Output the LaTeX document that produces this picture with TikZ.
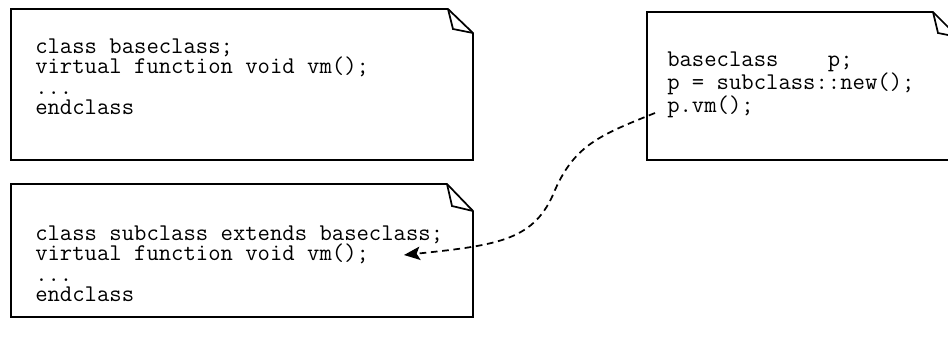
\documentclass[tikz,border=0pt]{standalone}
\usepackage{fontspec}
\usetikzlibrary{arrows.meta}
\begin{document}
\begin{tikzpicture}[x=0.75pt,y=-0.75pt,
  note/.style={line width=1.3pt, line join=miter},
  code/.style={anchor=base west, inner sep=0pt, align=left,
    font=\ttfamily\fontsize{18pt}{15.375pt}\selectfont},
  widecode/.style={code, font=\ttfamily\fontsize{18pt}{17.25pt}\selectfont},
  call/.style={line width=1.3pt, dash pattern=on 5pt off 3.5pt,
    -{Stealth[length=12pt,width=10pt,inset=2.5pt]}}]
\useasboundingbox (0,0) rectangle (948,347);

% note: base class (node base = baseline of its last line)
\draw[note] (11,9) -- (448,9) -- (473,33) -- (473,160) -- (11,160) -- cycle;
\draw[note] (448,9) -- (453,29) -- (473,33);
\node[code] (base) at (35,114.5) {class baseclass;\\virtual function void vm();\\...\\endclass};

% note: subclass
\draw[note] (11,184) -- (447,184) -- (473,211) -- (473,317) -- (11,317) -- cycle;
\draw[note] (447,184) -- (452,206) -- (473,211);
\node[code] (sub) at (35,301.5) {class subclass extends baseclass;\\virtual function void vm();\\...\\endclass};

% note: caller
\draw[note] (647,12) -- (933,12) -- (958,37) -- (958,160) -- (647,160) -- cycle;
\draw[note] (933,12) -- (938,33) -- (958,37);
\node[widecode] (caller) at (667,112) {baseclass~~~~p;\\p = subclass::new();\\p.vm();};

% virtual call dispatch
\coordinate (callsite) at (655,113);
\coordinate (impl) at (404,255);
\draw[call] (callsite) .. controls (600,135) and (575,145) .. (555,190)
  .. controls (535,240) and (500,245) .. (impl);
\end{tikzpicture}
\end{document}
